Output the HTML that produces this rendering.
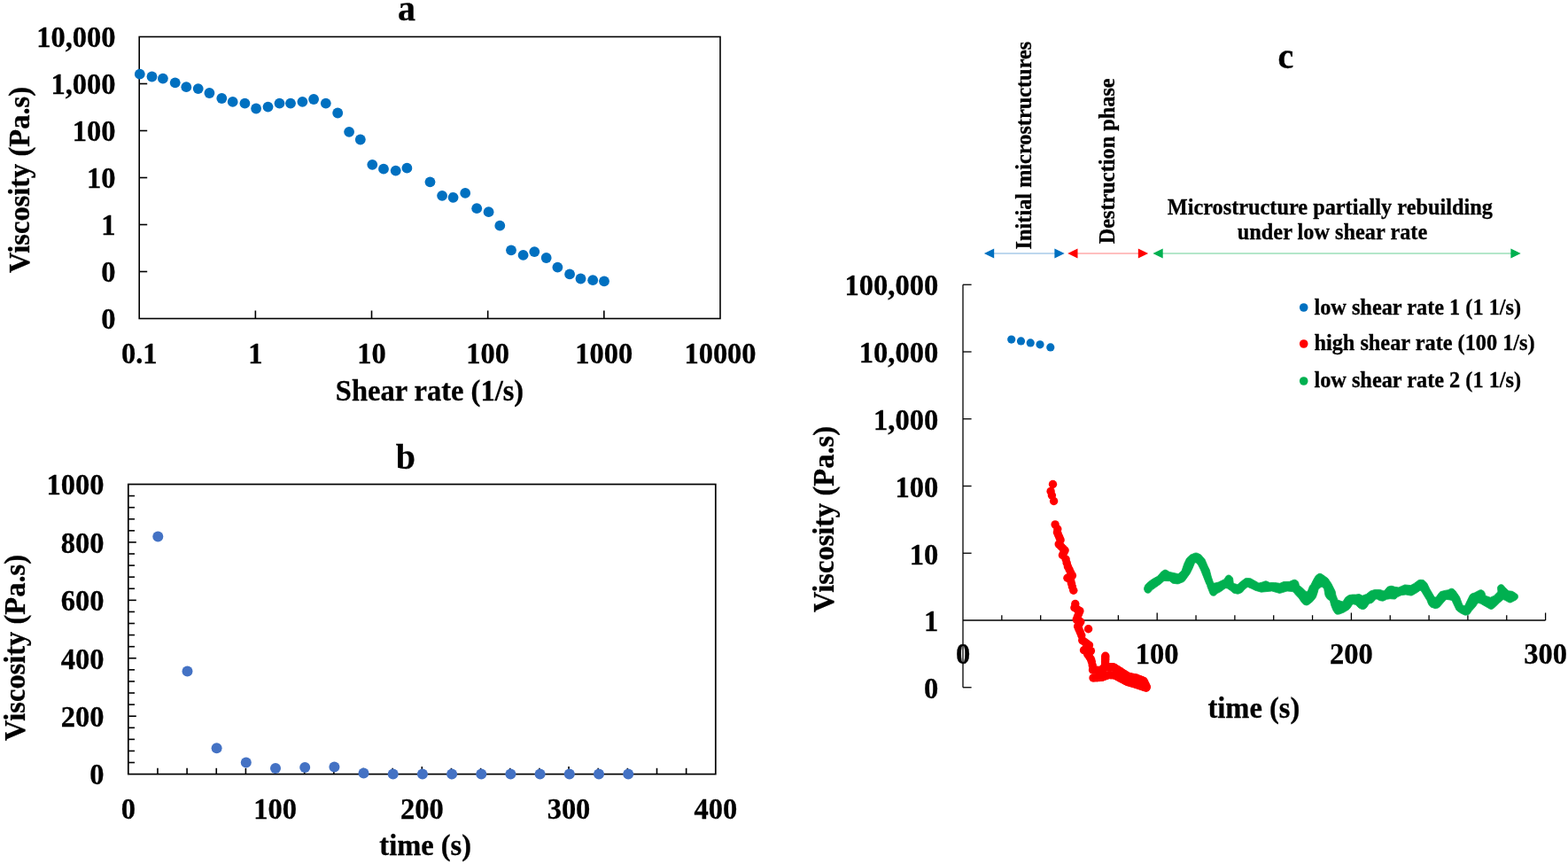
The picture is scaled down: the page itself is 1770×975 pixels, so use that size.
<!DOCTYPE html>
<html><head><meta charset="utf-8"><title>Viscosity charts</title>
<style>html,body{margin:0;padding:0;background:#fff;}svg{display:block;}svg{font-family:"Liberation Serif","Times New Roman",serif;font-weight:bold;}text{stroke:#000;stroke-width:0.3px;}</style></head>
<body><svg width="1770" height="975" viewBox="0 0 1770 975"  fill="#000">
<rect width="1770" height="975" fill="#fff"/>
<rect x="157.2" y="41.5" width="655.8" height="318.0" fill="none" stroke="#000" stroke-width="1.6"/>
<text font-size="32.5" text-anchor="end" transform="translate(130.5,52.8) scale(1,1.05)">10,000</text>
<line x1="157.20" y1="94.50" x2="166.20" y2="94.50" stroke="#000" stroke-width="1.6"/>
<text font-size="32.5" text-anchor="end" transform="translate(130.5,105.8) scale(1,1.05)">1,000</text>
<line x1="157.20" y1="147.50" x2="166.20" y2="147.50" stroke="#000" stroke-width="1.6"/>
<text font-size="32.5" text-anchor="end" transform="translate(130.5,158.8) scale(1,1.05)">100</text>
<line x1="157.20" y1="200.50" x2="166.20" y2="200.50" stroke="#000" stroke-width="1.6"/>
<text font-size="32.5" text-anchor="end" transform="translate(130.5,211.8) scale(1,1.05)">10</text>
<line x1="157.20" y1="253.50" x2="166.20" y2="253.50" stroke="#000" stroke-width="1.6"/>
<text font-size="32.5" text-anchor="end" transform="translate(130.5,264.8) scale(1,1.05)">1</text>
<line x1="157.20" y1="306.50" x2="166.20" y2="306.50" stroke="#000" stroke-width="1.6"/>
<text font-size="32.5" text-anchor="end" transform="translate(130.5,317.8) scale(1,1.05)">0</text>
<text font-size="32.5" text-anchor="end" transform="translate(130.5,370.8) scale(1,1.05)">0</text>
<text font-size="32.5" text-anchor="middle" transform="translate(157.2,409.5) scale(1,1.05)">0.1</text>
<line x1="288.36" y1="359.50" x2="288.36" y2="350.50" stroke="#000" stroke-width="1.6"/>
<text font-size="32.5" text-anchor="middle" transform="translate(288.4,409.5) scale(1,1.05)">1</text>
<line x1="419.52" y1="359.50" x2="419.52" y2="350.50" stroke="#000" stroke-width="1.6"/>
<text font-size="32.5" text-anchor="middle" transform="translate(419.5,409.5) scale(1,1.05)">10</text>
<line x1="550.68" y1="359.50" x2="550.68" y2="350.50" stroke="#000" stroke-width="1.6"/>
<text font-size="32.5" text-anchor="middle" transform="translate(550.7,409.5) scale(1,1.05)">100</text>
<line x1="681.84" y1="359.50" x2="681.84" y2="350.50" stroke="#000" stroke-width="1.6"/>
<text font-size="32.5" text-anchor="middle" transform="translate(681.8,409.5) scale(1,1.05)">1000</text>
<text font-size="32.5" text-anchor="middle" transform="translate(813.0,409.5) scale(1,1.05)">10000</text>
<text font-size="32.5" text-anchor="middle" transform="translate(485.0,452.0) scale(1,1.05)">Shear rate (1/s)</text>
<text font-size="40" text-anchor="middle" transform="translate(459.0,22.7)">a</text>
<text font-size="32.5" text-anchor="middle" transform="translate(32.3,203) rotate(-90) scale(1,1.05) translate(0,0.95)">Viscosity (Pa.s)</text>
<circle cx="157.8" cy="83.7" r="5.9" fill="#0070C0"/>
<circle cx="171.5" cy="86.5" r="5.9" fill="#0070C0"/>
<circle cx="183.9" cy="88.6" r="5.9" fill="#0070C0"/>
<circle cx="197.7" cy="93.3" r="5.9" fill="#0070C0"/>
<circle cx="210.3" cy="98.2" r="5.9" fill="#0070C0"/>
<circle cx="223.7" cy="100.1" r="5.9" fill="#0070C0"/>
<circle cx="236.4" cy="105.0" r="5.9" fill="#0070C0"/>
<circle cx="250.3" cy="111.0" r="5.9" fill="#0070C0"/>
<circle cx="262.7" cy="114.9" r="5.9" fill="#0070C0"/>
<circle cx="276.4" cy="116.6" r="5.9" fill="#0070C0"/>
<circle cx="289.1" cy="122.5" r="5.9" fill="#0070C0"/>
<circle cx="302.5" cy="120.6" r="5.9" fill="#0070C0"/>
<circle cx="315.5" cy="116.6" r="5.9" fill="#0070C0"/>
<circle cx="328.0" cy="116.6" r="5.9" fill="#0070C0"/>
<circle cx="341.4" cy="114.8" r="5.9" fill="#0070C0"/>
<circle cx="354.1" cy="112.0" r="5.9" fill="#0070C0"/>
<circle cx="367.8" cy="116.6" r="5.9" fill="#0070C0"/>
<circle cx="381.2" cy="127.5" r="5.9" fill="#0070C0"/>
<circle cx="394.1" cy="148.8" r="5.9" fill="#0070C0"/>
<circle cx="406.8" cy="157.5" r="5.9" fill="#0070C0"/>
<circle cx="420.3" cy="185.8" r="5.9" fill="#0070C0"/>
<circle cx="433.0" cy="190.7" r="5.9" fill="#0070C0"/>
<circle cx="446.7" cy="192.6" r="5.9" fill="#0070C0"/>
<circle cx="459.4" cy="189.7" r="5.9" fill="#0070C0"/>
<circle cx="485.5" cy="205.3" r="5.9" fill="#0070C0"/>
<circle cx="499.1" cy="220.8" r="5.9" fill="#0070C0"/>
<circle cx="511.6" cy="222.8" r="5.9" fill="#0070C0"/>
<circle cx="525.2" cy="217.9" r="5.9" fill="#0070C0"/>
<circle cx="538.2" cy="235.2" r="5.9" fill="#0070C0"/>
<circle cx="551.6" cy="239.2" r="5.9" fill="#0070C0"/>
<circle cx="564.3" cy="254.7" r="5.9" fill="#0070C0"/>
<circle cx="577.0" cy="282.3" r="5.9" fill="#0070C0"/>
<circle cx="590.6" cy="287.9" r="5.9" fill="#0070C0"/>
<circle cx="603.3" cy="284.1" r="5.9" fill="#0070C0"/>
<circle cx="616.7" cy="291.0" r="5.9" fill="#0070C0"/>
<circle cx="629.4" cy="301.6" r="5.9" fill="#0070C0"/>
<circle cx="643.1" cy="309.4" r="5.9" fill="#0070C0"/>
<circle cx="655.5" cy="314.5" r="5.9" fill="#0070C0"/>
<circle cx="669.2" cy="316.2" r="5.9" fill="#0070C0"/>
<circle cx="682.0" cy="317.3" r="5.9" fill="#0070C0"/>
<rect x="144.8" y="546.5" width="663.0" height="327.1" fill="none" stroke="#000" stroke-width="1.7"/>
<line x1="144.80" y1="860.52" x2="152.00" y2="860.52" stroke="#000" stroke-width="1.6"/>
<line x1="144.80" y1="847.43" x2="152.00" y2="847.43" stroke="#000" stroke-width="1.6"/>
<line x1="144.80" y1="834.35" x2="152.00" y2="834.35" stroke="#000" stroke-width="1.6"/>
<line x1="144.80" y1="821.26" x2="152.00" y2="821.26" stroke="#000" stroke-width="1.6"/>
<line x1="144.80" y1="808.18" x2="153.80" y2="808.18" stroke="#000" stroke-width="1.6"/>
<line x1="144.80" y1="795.10" x2="152.00" y2="795.10" stroke="#000" stroke-width="1.6"/>
<line x1="144.80" y1="782.01" x2="152.00" y2="782.01" stroke="#000" stroke-width="1.6"/>
<line x1="144.80" y1="768.93" x2="152.00" y2="768.93" stroke="#000" stroke-width="1.6"/>
<line x1="144.80" y1="755.84" x2="152.00" y2="755.84" stroke="#000" stroke-width="1.6"/>
<line x1="144.80" y1="742.76" x2="153.80" y2="742.76" stroke="#000" stroke-width="1.6"/>
<line x1="144.80" y1="729.68" x2="152.00" y2="729.68" stroke="#000" stroke-width="1.6"/>
<line x1="144.80" y1="716.59" x2="152.00" y2="716.59" stroke="#000" stroke-width="1.6"/>
<line x1="144.80" y1="703.51" x2="152.00" y2="703.51" stroke="#000" stroke-width="1.6"/>
<line x1="144.80" y1="690.42" x2="152.00" y2="690.42" stroke="#000" stroke-width="1.6"/>
<line x1="144.80" y1="677.34" x2="153.80" y2="677.34" stroke="#000" stroke-width="1.6"/>
<line x1="144.80" y1="664.26" x2="152.00" y2="664.26" stroke="#000" stroke-width="1.6"/>
<line x1="144.80" y1="651.17" x2="152.00" y2="651.17" stroke="#000" stroke-width="1.6"/>
<line x1="144.80" y1="638.09" x2="152.00" y2="638.09" stroke="#000" stroke-width="1.6"/>
<line x1="144.80" y1="625.00" x2="152.00" y2="625.00" stroke="#000" stroke-width="1.6"/>
<line x1="144.80" y1="611.92" x2="153.80" y2="611.92" stroke="#000" stroke-width="1.6"/>
<line x1="144.80" y1="598.84" x2="152.00" y2="598.84" stroke="#000" stroke-width="1.6"/>
<line x1="144.80" y1="585.75" x2="152.00" y2="585.75" stroke="#000" stroke-width="1.6"/>
<line x1="144.80" y1="572.67" x2="152.00" y2="572.67" stroke="#000" stroke-width="1.6"/>
<line x1="144.80" y1="559.58" x2="152.00" y2="559.58" stroke="#000" stroke-width="1.6"/>
<text font-size="32.5" text-anchor="end" transform="translate(117.5,885.3) scale(1,1.05)">0</text>
<text font-size="32.5" text-anchor="end" transform="translate(117.5,819.9) scale(1,1.05)">200</text>
<text font-size="32.5" text-anchor="end" transform="translate(117.5,754.5) scale(1,1.05)">400</text>
<text font-size="32.5" text-anchor="end" transform="translate(117.5,689.0) scale(1,1.05)">600</text>
<text font-size="32.5" text-anchor="end" transform="translate(117.5,623.6) scale(1,1.05)">800</text>
<text font-size="32.5" text-anchor="end" transform="translate(117.5,558.2) scale(1,1.05)">1000</text>
<line x1="177.95" y1="873.60" x2="177.95" y2="866.80" stroke="#000" stroke-width="1.6"/>
<line x1="211.10" y1="873.60" x2="211.10" y2="866.80" stroke="#000" stroke-width="1.6"/>
<line x1="244.25" y1="873.60" x2="244.25" y2="866.80" stroke="#000" stroke-width="1.6"/>
<line x1="277.40" y1="873.60" x2="277.40" y2="866.80" stroke="#000" stroke-width="1.6"/>
<line x1="310.55" y1="873.60" x2="310.55" y2="865.10" stroke="#000" stroke-width="1.6"/>
<line x1="343.70" y1="873.60" x2="343.70" y2="866.80" stroke="#000" stroke-width="1.6"/>
<line x1="376.85" y1="873.60" x2="376.85" y2="866.80" stroke="#000" stroke-width="1.6"/>
<line x1="410.00" y1="873.60" x2="410.00" y2="866.80" stroke="#000" stroke-width="1.6"/>
<line x1="443.15" y1="873.60" x2="443.15" y2="866.80" stroke="#000" stroke-width="1.6"/>
<line x1="476.30" y1="873.60" x2="476.30" y2="865.10" stroke="#000" stroke-width="1.6"/>
<line x1="509.45" y1="873.60" x2="509.45" y2="866.80" stroke="#000" stroke-width="1.6"/>
<line x1="542.60" y1="873.60" x2="542.60" y2="866.80" stroke="#000" stroke-width="1.6"/>
<line x1="575.75" y1="873.60" x2="575.75" y2="866.80" stroke="#000" stroke-width="1.6"/>
<line x1="608.90" y1="873.60" x2="608.90" y2="866.80" stroke="#000" stroke-width="1.6"/>
<line x1="642.05" y1="873.60" x2="642.05" y2="865.10" stroke="#000" stroke-width="1.6"/>
<line x1="675.20" y1="873.60" x2="675.20" y2="866.80" stroke="#000" stroke-width="1.6"/>
<line x1="708.35" y1="873.60" x2="708.35" y2="866.80" stroke="#000" stroke-width="1.6"/>
<line x1="741.50" y1="873.60" x2="741.50" y2="866.80" stroke="#000" stroke-width="1.6"/>
<line x1="774.65" y1="873.60" x2="774.65" y2="866.80" stroke="#000" stroke-width="1.6"/>
<text font-size="32.5" text-anchor="middle" transform="translate(144.8,923.5) scale(1,1.05)">0</text>
<text font-size="32.5" text-anchor="middle" transform="translate(310.6,923.5) scale(1,1.05)">100</text>
<text font-size="32.5" text-anchor="middle" transform="translate(476.3,923.5) scale(1,1.05)">200</text>
<text font-size="32.5" text-anchor="middle" transform="translate(642.0,923.5) scale(1,1.05)">300</text>
<text font-size="32.5" text-anchor="middle" transform="translate(807.8,923.5) scale(1,1.05)">400</text>
<text font-size="32.5" text-anchor="middle" transform="translate(480.2,964.5) scale(1,1.05)">time (s)</text>
<text font-size="40" text-anchor="middle" transform="translate(457.8,528.8)">b</text>
<text font-size="32.5" text-anchor="middle" transform="translate(26.7,731) rotate(-90) scale(1,1.05) translate(0,0.95)">Viscosity (Pa.s)</text>
<circle cx="178.3" cy="605.4" r="6" fill="#4472C4"/>
<circle cx="211.5" cy="757.5" r="6" fill="#4472C4"/>
<circle cx="244.6" cy="844.2" r="6" fill="#4472C4"/>
<circle cx="277.8" cy="860.5" r="6" fill="#4472C4"/>
<circle cx="311.0" cy="867.1" r="6" fill="#4472C4"/>
<circle cx="344.2" cy="866.1" r="6" fill="#4472C4"/>
<circle cx="377.4" cy="865.4" r="6" fill="#4472C4"/>
<circle cx="410.5" cy="872.6" r="6" fill="#4472C4"/>
<circle cx="443.7" cy="873.6" r="6" fill="#4472C4"/>
<circle cx="476.9" cy="873.6" r="6" fill="#4472C4"/>
<circle cx="510.1" cy="873.6" r="6" fill="#4472C4"/>
<circle cx="543.3" cy="873.6" r="6" fill="#4472C4"/>
<circle cx="576.4" cy="873.6" r="6" fill="#4472C4"/>
<circle cx="609.6" cy="873.6" r="6" fill="#4472C4"/>
<circle cx="642.8" cy="873.6" r="6" fill="#4472C4"/>
<circle cx="676.0" cy="873.6" r="6" fill="#4472C4"/>
<circle cx="709.2" cy="873.6" r="6" fill="#4472C4"/>
<line x1="1087.00" y1="321.25" x2="1087.00" y2="775.75" stroke="#000" stroke-width="1.3"/>
<line x1="1087.00" y1="700.00" x2="1744.60" y2="700.00" stroke="#000" stroke-width="1.3"/>
<line x1="1087.00" y1="321.25" x2="1096.60" y2="321.25" stroke="#000" stroke-width="1.3"/>
<text font-size="32.5" text-anchor="end" transform="translate(1059.2,333.4) scale(1,1.05)">100,000</text>
<line x1="1087.00" y1="397.00" x2="1096.60" y2="397.00" stroke="#000" stroke-width="1.3"/>
<text font-size="32.5" text-anchor="end" transform="translate(1059.2,409.2) scale(1,1.05)">10,000</text>
<line x1="1087.00" y1="472.75" x2="1096.60" y2="472.75" stroke="#000" stroke-width="1.3"/>
<text font-size="32.5" text-anchor="end" transform="translate(1059.2,484.9) scale(1,1.05)">1,000</text>
<line x1="1087.00" y1="548.50" x2="1096.60" y2="548.50" stroke="#000" stroke-width="1.3"/>
<text font-size="32.5" text-anchor="end" transform="translate(1059.2,560.7) scale(1,1.05)">100</text>
<line x1="1087.00" y1="624.25" x2="1096.60" y2="624.25" stroke="#000" stroke-width="1.3"/>
<text font-size="32.5" text-anchor="end" transform="translate(1059.2,636.5) scale(1,1.05)">10</text>
<text font-size="32.5" text-anchor="end" transform="translate(1059.2,712.2) scale(1,1.05)">1</text>
<line x1="1087.00" y1="775.75" x2="1096.60" y2="775.75" stroke="#000" stroke-width="1.3"/>
<text font-size="32.5" text-anchor="end" transform="translate(1059.2,788.0) scale(1,1.05)">0</text>
<line x1="1130.84" y1="700.00" x2="1130.84" y2="694.20" stroke="#000" stroke-width="1.3"/>
<line x1="1174.68" y1="700.00" x2="1174.68" y2="694.20" stroke="#000" stroke-width="1.3"/>
<line x1="1218.52" y1="700.00" x2="1218.52" y2="694.20" stroke="#000" stroke-width="1.3"/>
<line x1="1262.36" y1="700.00" x2="1262.36" y2="694.20" stroke="#000" stroke-width="1.3"/>
<line x1="1306.20" y1="700.00" x2="1306.20" y2="691.50" stroke="#000" stroke-width="1.3"/>
<line x1="1350.04" y1="700.00" x2="1350.04" y2="694.20" stroke="#000" stroke-width="1.3"/>
<line x1="1393.88" y1="700.00" x2="1393.88" y2="694.20" stroke="#000" stroke-width="1.3"/>
<line x1="1437.72" y1="700.00" x2="1437.72" y2="694.20" stroke="#000" stroke-width="1.3"/>
<line x1="1481.56" y1="700.00" x2="1481.56" y2="694.20" stroke="#000" stroke-width="1.3"/>
<line x1="1525.40" y1="700.00" x2="1525.40" y2="691.50" stroke="#000" stroke-width="1.3"/>
<line x1="1569.24" y1="700.00" x2="1569.24" y2="694.20" stroke="#000" stroke-width="1.3"/>
<line x1="1613.08" y1="700.00" x2="1613.08" y2="694.20" stroke="#000" stroke-width="1.3"/>
<line x1="1656.92" y1="700.00" x2="1656.92" y2="694.20" stroke="#000" stroke-width="1.3"/>
<line x1="1700.76" y1="700.00" x2="1700.76" y2="694.20" stroke="#000" stroke-width="1.3"/>
<line x1="1744.60" y1="700.00" x2="1744.60" y2="691.50" stroke="#000" stroke-width="1.3"/>
<text font-size="32.5" text-anchor="middle" transform="translate(1087.0,749.0) scale(1,1.05)">0</text>
<text font-size="32.5" text-anchor="middle" transform="translate(1306.2,749.0) scale(1,1.05)">100</text>
<text font-size="32.5" text-anchor="middle" transform="translate(1525.4,749.0) scale(1,1.05)">200</text>
<text font-size="32.5" text-anchor="middle" transform="translate(1744.6,749.0) scale(1,1.05)">300</text>
<text font-size="32.5" text-anchor="middle" transform="translate(1415.4,809.7) scale(1,1.05)">time (s)</text>
<text font-size="40" text-anchor="middle" transform="translate(1451.4,76.5)">c</text>
<text font-size="32.5" text-anchor="middle" transform="translate(939.8,586) rotate(-90) scale(1,1.05) translate(0,0.95)">Viscosity (Pa.s)</text>
<circle cx="1471.7" cy="347.0" r="4.8" fill="#0070C0"/>
<text font-size="24.3" text-anchor="start" transform="translate(1483.4,354.7)">low shear rate 1 (1 1/s)</text>
<circle cx="1471.7" cy="388.0" r="4.8" fill="#FF0000"/>
<text font-size="24.3" text-anchor="start" transform="translate(1483.4,395.2)">high shear rate (100 1/s)</text>
<circle cx="1471.7" cy="430.0" r="4.8" fill="#00B050"/>
<text font-size="24.3" text-anchor="start" transform="translate(1483.4,436.9)">low shear rate 2 (1 1/s)</text>
<text font-size="24.3" text-anchor="start" transform="translate(1164.4,281.4) rotate(-90) translate(0,0.00)">Initial microstructures</text>
<text font-size="24.3" text-anchor="start" transform="translate(1257.9,275.3) rotate(-90) translate(0,0.00)">Destruction phase</text>
<text font-size="24.3" text-anchor="middle" transform="translate(1501.3,241.7)">Microstructure partially rebuilding</text>
<text font-size="24.3" text-anchor="middle" transform="translate(1504.0,270.3)">under low shear rate</text>
<line x1="1121.20" y1="286.00" x2="1191.40" y2="286.00" stroke="#BDD7EE" stroke-width="2"/>
<polygon points="1110.9,286.0 1122.2,280.4 1122.2,291.6" fill="#0070C0"/>
<polygon points="1201.7,286.0 1190.4,280.4 1190.4,291.6" fill="#0070C0"/>
<line x1="1215.50" y1="286.00" x2="1285.80" y2="286.00" stroke="#FFBFBF" stroke-width="2"/>
<polygon points="1205.2,286.0 1216.5,280.4 1216.5,291.6" fill="#FF0000"/>
<polygon points="1296.1,286.0 1284.8,280.4 1284.8,291.6" fill="#FF0000"/>
<line x1="1311.70" y1="286.00" x2="1706.40" y2="286.00" stroke="#B3E7CA" stroke-width="2"/>
<polygon points="1301.4,286.0 1312.7,280.4 1312.7,291.6" fill="#00B050"/>
<polygon points="1716.7,286.0 1705.4,280.4 1705.4,291.6" fill="#00B050"/>
<circle cx="1141.7" cy="383.1" r="4.6" fill="#0070C0"/>
<circle cx="1152.5" cy="384.9" r="4.6" fill="#0070C0"/>
<circle cx="1163.2" cy="386.9" r="4.6" fill="#0070C0"/>
<circle cx="1174.0" cy="388.8" r="4.6" fill="#0070C0"/>
<circle cx="1185.8" cy="391.9" r="4.6" fill="#0070C0"/>
<circle cx="1188.5" cy="546.5" r="4.7" fill="#FF0000"/>
<circle cx="1186.1" cy="554.4" r="4.7" fill="#FF0000"/>
<circle cx="1187.4" cy="559.0" r="4.7" fill="#FF0000"/>
<circle cx="1189.6" cy="565.5" r="4.7" fill="#FF0000"/>
<circle cx="1191.1" cy="591.9" r="4.7" fill="#FF0000"/>
<circle cx="1193.8" cy="597.0" r="4.7" fill="#FF0000"/>
<circle cx="1193.4" cy="600.7" r="4.7" fill="#FF0000"/>
<circle cx="1194.6" cy="603.6" r="4.7" fill="#FF0000"/>
<circle cx="1195.9" cy="606.5" r="4.7" fill="#FF0000"/>
<circle cx="1197.1" cy="609.4" r="4.7" fill="#FF0000"/>
<circle cx="1195.2" cy="614.1" r="4.7" fill="#FF0000"/>
<circle cx="1197.5" cy="616.4" r="4.7" fill="#FF0000"/>
<circle cx="1199.8" cy="618.7" r="4.7" fill="#FF0000"/>
<circle cx="1202.1" cy="621.0" r="4.7" fill="#FF0000"/>
<circle cx="1200.8" cy="623.8" r="4.7" fill="#FF0000"/>
<circle cx="1199.4" cy="626.5" r="4.7" fill="#FF0000"/>
<circle cx="1203.1" cy="631.1" r="4.7" fill="#FF0000"/>
<circle cx="1204.2" cy="635.2" r="4.7" fill="#FF0000"/>
<circle cx="1205.4" cy="639.4" r="4.7" fill="#FF0000"/>
<circle cx="1207.1" cy="642.8" r="4.7" fill="#FF0000"/>
<circle cx="1208.7" cy="646.2" r="4.7" fill="#FF0000"/>
<circle cx="1210.4" cy="649.6" r="4.7" fill="#FF0000"/>
<circle cx="1207.7" cy="651.0" r="4.7" fill="#FF0000"/>
<circle cx="1204.9" cy="652.3" r="4.7" fill="#FF0000"/>
<circle cx="1208.6" cy="655.1" r="4.7" fill="#FF0000"/>
<circle cx="1209.5" cy="658.5" r="4.7" fill="#FF0000"/>
<circle cx="1210.4" cy="662.0" r="4.7" fill="#FF0000"/>
<circle cx="1211.8" cy="666.2" r="4.7" fill="#FF0000"/>
<circle cx="1213.8" cy="681.5" r="4.7" fill="#FF0000"/>
<circle cx="1212.9" cy="685.7" r="4.7" fill="#FF0000"/>
<circle cx="1215.9" cy="687.5" r="4.7" fill="#FF0000"/>
<circle cx="1218.9" cy="689.4" r="4.7" fill="#FF0000"/>
<circle cx="1217.7" cy="692.6" r="4.7" fill="#FF0000"/>
<circle cx="1216.4" cy="695.9" r="4.7" fill="#FF0000"/>
<circle cx="1215.2" cy="699.1" r="4.7" fill="#FF0000"/>
<circle cx="1219.8" cy="701.8" r="4.7" fill="#FF0000"/>
<circle cx="1218.2" cy="704.3" r="4.7" fill="#FF0000"/>
<circle cx="1216.6" cy="706.9" r="4.7" fill="#FF0000"/>
<circle cx="1218.0" cy="710.3" r="4.7" fill="#FF0000"/>
<circle cx="1219.4" cy="713.6" r="4.7" fill="#FF0000"/>
<circle cx="1220.8" cy="717.0" r="4.7" fill="#FF0000"/>
<circle cx="1221.7" cy="722.6" r="4.7" fill="#FF0000"/>
<circle cx="1224.3" cy="724.4" r="4.7" fill="#FF0000"/>
<circle cx="1226.9" cy="726.3" r="4.7" fill="#FF0000"/>
<circle cx="1229.5" cy="728.1" r="4.7" fill="#FF0000"/>
<circle cx="1226.5" cy="730.9" r="4.7" fill="#FF0000"/>
<circle cx="1223.5" cy="733.7" r="4.7" fill="#FF0000"/>
<circle cx="1227.5" cy="734.2" r="4.7" fill="#FF0000"/>
<circle cx="1231.4" cy="734.6" r="4.7" fill="#FF0000"/>
<circle cx="1227.7" cy="738.3" r="4.7" fill="#FF0000"/>
<circle cx="1229.6" cy="741.0" r="4.7" fill="#FF0000"/>
<circle cx="1231.4" cy="743.8" r="4.7" fill="#FF0000"/>
<circle cx="1232.3" cy="746.6" r="4.7" fill="#FF0000"/>
<circle cx="1233.2" cy="750.8" r="4.7" fill="#FF0000"/>
<circle cx="1234.1" cy="754.9" r="4.7" fill="#FF0000"/>
<circle cx="1228.6" cy="709.7" r="4.7" fill="#FF0000"/>
<circle cx="1247.8" cy="740.2" r="4.7" fill="#FF0000"/>
<circle cx="1247.7" cy="742.3" r="4.7" fill="#FF0000"/>
<circle cx="1247.7" cy="744.3" r="4.7" fill="#FF0000"/>
<circle cx="1247.6" cy="746.4" r="4.7" fill="#FF0000"/>
<circle cx="1247.6" cy="748.5" r="4.7" fill="#FF0000"/>
<circle cx="1247.6" cy="750.5" r="4.7" fill="#FF0000"/>
<circle cx="1247.6" cy="752.6" r="4.7" fill="#FF0000"/>
<circle cx="1233.5" cy="756.0" r="4.7" fill="#FF0000"/>
<circle cx="1235.8" cy="756.1" r="4.7" fill="#FF0000"/>
<circle cx="1238.0" cy="756.2" r="4.7" fill="#FF0000"/>
<circle cx="1240.2" cy="756.4" r="4.7" fill="#FF0000"/>
<circle cx="1242.5" cy="756.5" r="4.7" fill="#FF0000"/>
<circle cx="1244.2" cy="755.2" r="4.7" fill="#FF0000"/>
<circle cx="1245.9" cy="753.9" r="4.7" fill="#FF0000"/>
<circle cx="1247.6" cy="752.6" r="4.7" fill="#FF0000"/>
<circle cx="1249.8" cy="752.6" r="4.7" fill="#FF0000"/>
<circle cx="1252.1" cy="752.6" r="4.7" fill="#FF0000"/>
<circle cx="1254.3" cy="752.6" r="4.7" fill="#FF0000"/>
<circle cx="1256.6" cy="752.6" r="4.7" fill="#FF0000"/>
<circle cx="1258.4" cy="753.7" r="4.7" fill="#FF0000"/>
<circle cx="1260.2" cy="754.9" r="4.7" fill="#FF0000"/>
<circle cx="1262.1" cy="756.0" r="4.7" fill="#FF0000"/>
<circle cx="1263.9" cy="757.1" r="4.7" fill="#FF0000"/>
<circle cx="1265.8" cy="758.3" r="4.7" fill="#FF0000"/>
<circle cx="1267.7" cy="759.6" r="4.7" fill="#FF0000"/>
<circle cx="1269.7" cy="760.8" r="4.7" fill="#FF0000"/>
<circle cx="1271.6" cy="762.1" r="4.7" fill="#FF0000"/>
<circle cx="1273.5" cy="763.3" r="4.7" fill="#FF0000"/>
<circle cx="1275.8" cy="763.7" r="4.7" fill="#FF0000"/>
<circle cx="1278.0" cy="764.1" r="4.7" fill="#FF0000"/>
<circle cx="1280.2" cy="764.6" r="4.7" fill="#FF0000"/>
<circle cx="1282.5" cy="765.0" r="4.7" fill="#FF0000"/>
<circle cx="1284.6" cy="765.9" r="4.7" fill="#FF0000"/>
<circle cx="1286.8" cy="766.7" r="4.7" fill="#FF0000"/>
<circle cx="1288.9" cy="767.5" r="4.7" fill="#FF0000"/>
<circle cx="1291.0" cy="768.4" r="4.7" fill="#FF0000"/>
<circle cx="1292.1" cy="770.6" r="4.7" fill="#FF0000"/>
<circle cx="1293.3" cy="772.9" r="4.7" fill="#FF0000"/>
<circle cx="1294.4" cy="775.1" r="4.7" fill="#FF0000"/>
<circle cx="1234.0" cy="765.0" r="4.7" fill="#FF0000"/>
<circle cx="1236.4" cy="764.9" r="4.7" fill="#FF0000"/>
<circle cx="1238.8" cy="764.7" r="4.7" fill="#FF0000"/>
<circle cx="1241.2" cy="764.5" r="4.7" fill="#FF0000"/>
<circle cx="1243.6" cy="764.4" r="4.7" fill="#FF0000"/>
<circle cx="1245.6" cy="763.7" r="4.7" fill="#FF0000"/>
<circle cx="1247.5" cy="763.0" r="4.7" fill="#FF0000"/>
<circle cx="1249.5" cy="762.3" r="4.7" fill="#FF0000"/>
<circle cx="1251.5" cy="761.6" r="4.7" fill="#FF0000"/>
<circle cx="1253.9" cy="761.8" r="4.7" fill="#FF0000"/>
<circle cx="1256.4" cy="761.9" r="4.7" fill="#FF0000"/>
<circle cx="1258.8" cy="762.1" r="4.7" fill="#FF0000"/>
<circle cx="1260.7" cy="763.1" r="4.7" fill="#FF0000"/>
<circle cx="1262.5" cy="764.1" r="4.7" fill="#FF0000"/>
<circle cx="1264.3" cy="765.1" r="4.7" fill="#FF0000"/>
<circle cx="1266.2" cy="766.1" r="4.7" fill="#FF0000"/>
<circle cx="1268.3" cy="767.2" r="4.7" fill="#FF0000"/>
<circle cx="1270.3" cy="768.4" r="4.7" fill="#FF0000"/>
<circle cx="1272.4" cy="769.5" r="4.7" fill="#FF0000"/>
<circle cx="1274.4" cy="770.0" r="4.7" fill="#FF0000"/>
<circle cx="1276.3" cy="770.6" r="4.7" fill="#FF0000"/>
<circle cx="1278.3" cy="771.2" r="4.7" fill="#FF0000"/>
<circle cx="1280.3" cy="771.7" r="4.7" fill="#FF0000"/>
<circle cx="1282.5" cy="772.5" r="4.7" fill="#FF0000"/>
<circle cx="1284.8" cy="773.2" r="4.7" fill="#FF0000"/>
<circle cx="1287.0" cy="774.0" r="4.7" fill="#FF0000"/>
<circle cx="1289.3" cy="774.7" r="4.7" fill="#FF0000"/>
<circle cx="1291.5" cy="775.5" r="4.7" fill="#FF0000"/>
<circle cx="1293.8" cy="776.2" r="4.7" fill="#FF0000"/>
<path d="M1291.7,663.1 L1291.5,665.1 L1292.6,667.8 L1294.2,669.0 L1296.2,669.3 L1297.3,669.0 L1298.3,668.4 L1300.7,665.6 L1310.0,659.0 L1314.0,655.5 L1320.4,655.7 L1323.7,658.2 L1329.0,658.9 L1330.6,658.7 L1335.9,656.6 L1337.3,655.4 L1343.2,647.2 L1345.9,641.8 L1348.4,635.7 L1348.9,635.1 L1349.7,634.9 L1350.8,635.3 L1352.7,637.8 L1355.4,643.0 L1361.7,658.9 L1362.6,660.4 L1362.9,662.0 L1366.1,670.1 L1367.0,671.4 L1368.4,672.1 L1370.0,672.3 L1371.6,671.9 L1374.1,669.6 L1378.0,667.6 L1382.9,664.0 L1383.7,663.7 L1385.4,663.9 L1388.9,666.3 L1392.4,669.2 L1396.9,670.2 L1398.5,670.0 L1402.1,668.4 L1405.0,665.0 L1407.8,662.8 L1408.4,662.6 L1409.2,662.7 L1412.9,664.3 L1417.0,666.3 L1423.6,668.2 L1435.7,667.0 L1444.4,669.5 L1445.5,669.3 L1453.0,667.0 L1459.0,667.6 L1460.0,668.0 L1462.5,671.1 L1466.3,675.0 L1468.9,678.9 L1471.1,681.6 L1472.6,682.5 L1475.0,683.0 L1476.2,682.7 L1477.2,682.2 L1481.1,679.2 L1482.8,677.5 L1485.4,674.0 L1487.3,668.5 L1488.1,665.0 L1491.1,662.5 L1492.2,662.2 L1493.0,662.6 L1494.7,664.5 L1495.9,671.5 L1496.3,672.7 L1498.6,676.1 L1501.0,677.5 L1501.4,678.1 L1502.7,683.2 L1504.9,688.7 L1507.1,692.0 L1508.3,692.9 L1509.5,693.3 L1512.0,693.0 L1517.0,691.1 L1522.1,688.0 L1523.1,687.2 L1525.1,684.6 L1526.3,682.4 L1527.0,681.9 L1527.8,681.8 L1530.5,682.4 L1533.8,685.9 L1537.3,687.6 L1539.2,687.6 L1540.3,687.2 L1542.5,685.7 L1545.4,681.2 L1548.3,680.5 L1549.4,680.0 L1552.7,676.5 L1553.3,676.1 L1554.3,676.1 L1557.5,677.7 L1560.8,678.2 L1562.1,677.9 L1565.4,676.3 L1569.1,675.7 L1574.3,676.1 L1575.8,675.5 L1577.7,673.6 L1581.8,671.7 L1586.9,671.0 L1592.4,672.1 L1594.0,671.9 L1600.3,668.3 L1602.4,666.7 L1603.1,666.4 L1603.8,666.5 L1604.5,667.1 L1611.0,677.7 L1612.6,681.9 L1614.6,684.4 L1615.6,685.2 L1620.1,686.7 L1621.3,686.6 L1623.3,686.0 L1624.8,685.1 L1632.1,676.7 L1633.0,676.4 L1637.0,677.0 L1638.5,677.5 L1639.2,678.1 L1643.9,688.0 L1644.7,689.1 L1648.6,691.8 L1652.9,693.9 L1654.1,694.2 L1657.1,693.8 L1658.9,692.8 L1661.0,689.6 L1665.7,684.3 L1667.8,681.1 L1668.5,680.6 L1669.2,680.6 L1671.1,681.0 L1681.5,687.0 L1682.7,687.4 L1683.8,687.4 L1684.9,687.1 L1685.9,686.4 L1688.4,684.2 L1692.4,680.3 L1696.6,676.8 L1697.8,676.8 L1703.3,679.8 L1704.4,680.0 L1705.5,679.9 L1711.8,676.7 L1713.1,675.1 L1713.5,673.2 L1713.0,671.3 L1711.6,669.9 L1707.3,667.3 L1702.9,666.8 L1698.5,662.5 L1697.0,660.5 L1695.3,659.7 L1693.7,659.7 L1691.9,660.6 L1690.7,662.3 L1690.5,663.8 L1690.9,667.1 L1690.7,668.0 L1686.3,672.4 L1682.3,674.2 L1677.7,672.6 L1676.9,671.9 L1675.9,668.7 L1674.8,667.1 L1672.6,665.8 L1671.4,665.7 L1670.2,665.9 L1664.3,669.0 L1661.1,670.1 L1659.9,671.0 L1659.2,671.9 L1656.4,677.6 L1654.1,682.6 L1653.5,683.3 L1652.6,683.4 L1651.4,683.0 L1650.8,682.4 L1647.5,673.5 L1643.0,667.0 L1640.4,664.6 L1638.9,664.2 L1637.7,664.2 L1634.8,665.7 L1630.9,666.4 L1626.3,667.6 L1625.0,668.5 L1621.3,673.6 L1620.5,674.0 L1619.8,673.9 L1619.0,673.4 L1613.8,664.5 L1610.7,658.1 L1607.2,654.8 L1605.8,654.4 L1603.0,654.3 L1600.9,654.9 L1596.3,658.4 L1592.4,660.6 L1585.7,659.9 L1578.8,662.9 L1574.6,662.3 L1571.4,661.3 L1569.8,661.3 L1567.0,662.1 L1566.0,662.6 L1563.2,666.2 L1562.6,666.6 L1561.7,666.7 L1557.7,665.4 L1551.8,665.4 L1546.7,667.1 L1542.6,670.4 L1538.3,672.1 L1537.5,672.0 L1535.2,670.8 L1534.0,670.5 L1530.7,671.0 L1526.6,671.0 L1523.1,671.6 L1522.0,672.1 L1519.1,674.1 L1518.4,674.9 L1516.4,678.3 L1515.8,678.7 L1515.0,678.8 L1510.6,677.2 L1509.9,676.7 L1508.0,671.7 L1507.1,667.1 L1502.8,658.5 L1498.9,652.7 L1492.3,648.0 L1490.5,647.3 L1489.4,647.3 L1488.3,647.6 L1486.0,649.2 L1485.2,650.0 L1482.7,654.2 L1480.1,659.4 L1478.5,661.3 L1476.3,667.1 L1475.2,667.8 L1474.1,667.4 L1470.4,663.8 L1466.5,660.5 L1465.7,657.3 L1464.8,655.9 L1463.1,654.7 L1461.7,654.2 L1460.0,654.4 L1455.7,656.3 L1448.9,656.5 L1444.8,658.3 L1438.4,657.4 L1433.2,657.6 L1430.3,656.1 L1428.8,655.8 L1427.6,656.0 L1425.0,657.0 L1421.2,657.9 L1420.5,657.7 L1411.8,652.8 L1407.3,652.4 L1406.2,652.6 L1405.2,653.1 L1401.5,655.8 L1397.5,659.2 L1396.5,659.5 L1393.2,658.6 L1392.6,658.1 L1392.2,657.5 L1391.7,653.1 L1391.1,651.7 L1389.1,649.6 L1388.0,649.2 L1386.8,649.0 L1385.6,649.3 L1384.3,650.1 L1382.1,653.4 L1381.6,653.9 L1375.3,657.0 L1371.1,658.1 L1370.3,658.0 L1369.5,657.2 L1367.4,651.1 L1365.3,643.0 L1363.3,639.0 L1360.0,631.2 L1355.4,625.9 L1351.5,624.2 L1350.0,624.0 L1348.6,624.2 L1343.7,626.2 L1339.6,630.1 L1336.7,636.2 L1334.0,644.2 L1330.5,647.3 L1329.4,647.5 L1320.1,645.4 L1317.2,643.6 L1316.1,643.2 L1315.0,643.1 L1313.9,643.4 L1311.3,645.1 L1306.7,650.3 L1300.8,653.6 L1296.7,656.4 L1292.9,660.2 L1291.7,663.1 Z " fill="#00B050" stroke="#00B050" stroke-width="0.8" stroke-linejoin="round"/>
</svg></body></html>
